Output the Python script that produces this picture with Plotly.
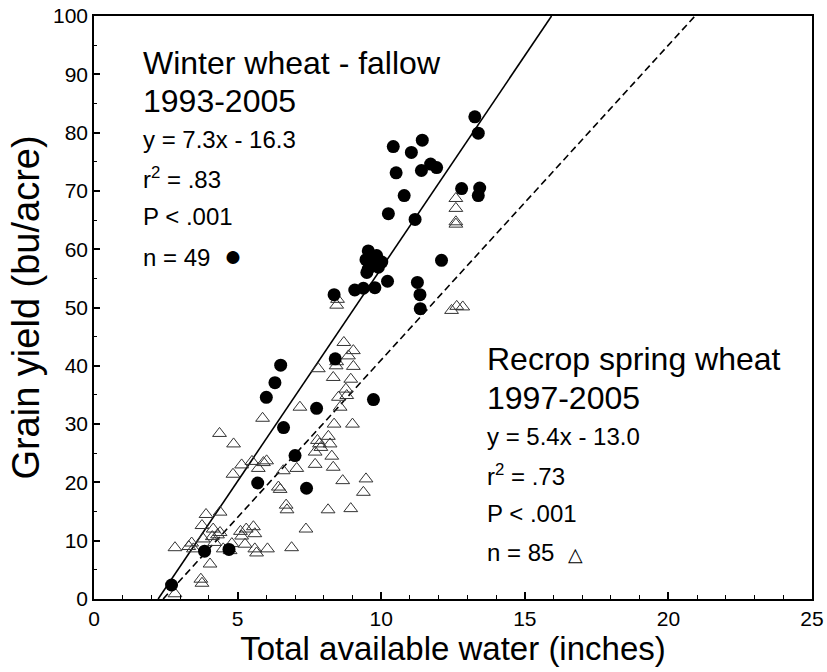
import plotly.graph_objects as go

# Winter wheat - fallow (filled circles)
ww_x = [2.7, 3.85, 4.7, 5.7, 6.0, 6.3, 6.5, 6.6, 7.0, 7.4, 7.75, 8.4, 8.36, 9.08, 9.38,
        9.73, 9.78, 9.5, 9.47, 9.55, 9.84, 10.02, 9.73, 9.9, 9.62, 9.68, 10.22, 10.25,
        10.42, 10.52, 10.8, 11.05, 11.18, 11.26, 11.35, 11.36, 11.43, 11.4, 11.72, 11.93,
        12.1, 12.8, 13.26, 13.38, 13.38, 13.43, 9.6, 9.95, 9.55]
ww_y = [2.4, 8.2, 8.5, 19.9, 34.6, 37.1, 40.1, 29.4, 24.6, 19.0, 32.7, 41.2, 52.2, 53.0, 53.3,
        34.2, 53.4, 56.0, 58.2, 59.7, 58.9, 57.8, 57.4, 56.9, 57.0, 58.5, 54.5, 66.1,
        77.6, 73.1, 69.2, 76.6, 65.1, 54.3, 52.2, 49.8, 78.7, 73.5, 74.6, 74.0,
        58.1, 70.4, 82.7, 79.9, 69.2, 70.5, 58.0, 57.6, 56.6]

# Recrop spring wheat (open triangles)
sw_x = [2.82, 2.82, 3.4, 3.46, 3.72, 3.76, 3.76, 3.8, 3.9, 4.04, 4.12, 4.15, 4.2, 4.39, 4.39,
        4.5, 4.74, 4.37, 4.86, 4.84, 5.1, 5.14, 5.14, 5.26, 5.55, 5.6, 5.6, 5.66, 5.5, 5.72,
        5.87, 5.9, 6.01, 6.04, 6.42, 6.48, 6.59, 6.69, 6.72, 6.88, 7.06, 7.17, 7.38, 7.7,
        7.7, 7.81, 7.78, 7.85, 8.16, 8.15, 8.22, 8.28, 8.33, 8.36, 8.33, 8.43, 8.45, 8.51,
        8.57, 8.66, 8.7, 8.77, 8.8, 8.86, 8.94, 8.94, 9.0, 9.03, 9.03, 9.38, 9.47, 8.48,
        8.45, 12.45, 12.63, 12.84, 12.6, 12.6, 12.6, 12.6, 4.3, 5.3, 3.3, 4.8, 7.9]
sw_y = [0.9, 8.8, 9.6, 8.6, 3.4, 2.7, 12.6, 10.3, 14.5, 6.0, 10.7, 12.0, 9.7, 11.4, 14.9,
        8.6, 8.3, 28.4, 26.6, 21.4, 11.6, 10.8, 23.0, 9.4, 12.4, 11.2, 8.6, 7.9, 23.6, 22.4,
        31.0, 23.4, 23.7, 8.6, 19.2, 18.8, 22.0, 16.1, 15.3, 8.8, 22.4, 32.9, 12.0, 23.1,
        25.2, 39.5, 27.2, 26.6, 27.9, 15.3, 26.6, 24.5, 22.6, 30.0, 38.0, 40.0, 40.7, 34.6,
        32.9, 20.3, 44.0, 36.0, 34.9, 41.7, 37.7, 15.5, 30.0, 39.9, 42.6, 18.3, 20.6, 51.4,
        50.4, 49.5, 50.2, 50.1, 68.7, 67.0, 64.3, 64.7, 11.0, 12.0, 9.0, 9.5, 26.0]

# Regression lines
ww_slope, ww_int = 7.3, -16.3
sw_slope, sw_int = 5.4, -13.0
y_line_range = [0, 100]

x_ticks = [0, 5, 10, 15, 20, 25]
y_ticks = [0, 10, 20, 30, 40, 50, 60, 70, 80, 90, 100]

FONT = "Liberation Sans, Arial, Helvetica, sans-serif"

fig = go.Figure()

fig.add_trace(go.Scatter(
    x=[(v - ww_int) / ww_slope for v in y_line_range], y=y_line_range,
    mode="lines", line=dict(color="black", width=1.6), showlegend=False, hoverinfo="skip"))
fig.add_trace(go.Scatter(
    x=[(v - sw_int) / sw_slope for v in y_line_range], y=y_line_range,
    mode="lines", line=dict(color="black", width=1.6, dash="7px,4px"), showlegend=False,
    hoverinfo="skip"))

fig.add_trace(go.Scatter(
    x=sw_x, y=sw_y, mode="markers", name="Recrop spring wheat",
    marker=dict(symbol="triangle-up-open", size=12, color="#333333", line=dict(width=1)),
    showlegend=False))
fig.add_trace(go.Scatter(
    x=ww_x, y=ww_y, mode="markers", name="Winter wheat - fallow",
    marker=dict(symbol="circle", size=13, color="black"),
    showlegend=False))

W, H = 827, 672
L, R, T, B = 94, 15, 16, 73
pw, ph = W - L - R, H - T - B


def px(xp):
    return (xp - L) / pw


def py(yp):
    return (H - B - yp) / ph


ann = []
block1 = [("Winter wheat - fallow", 63, 32), ("1993-2005", 101, 32),
          ("y = 7.3x - 16.3", 139, 24), ("r<sup>2</sup> = .83", 178, 24),
          ("P < .001", 216, 24),
          ("n = 49  <span style=\"font-size:30px\">\u25CF</span>", 255, 24)]
block2 = [("Recrop spring wheat", 359, 32), ("1997-2005", 398, 32),
          ("y = 5.4x - 13.0", 436, 24), ("r<sup>2</sup> = .73", 475, 24),
          ("P < .001", 513, 24),
          ("n = 85  <span style=\"font-size:19px\">\u25B3</span>", 552, 24)]
for xs, block in ((141, block1), (485, block2)):
    for text, yc, fs in block:
        ann.append(dict(text=text, x=px(xs), y=py(yc), xref="paper", yref="paper",
                        xanchor="left", yanchor="middle", showarrow=False,
                        font=dict(family=FONT, size=fs, color="black")))

fig.update_layout(
    width=W, height=H,
    margin=dict(l=L, r=R, t=T, b=B),
    paper_bgcolor="white", plot_bgcolor="white",
    font=dict(family=FONT, color="black"),
    annotations=ann,
)

fig.update_xaxes(
    range=[0, 25], tickvals=x_ticks, ticks="inside", ticklen=7, tickwidth=1.5,
    tickcolor="black", showline=True, linecolor="black", linewidth=1.6, mirror=True,
    showgrid=False, zeroline=False, tickfont=dict(size=21, family=FONT),
    ticklabeloverflow="allow",
    minor=dict(dtick=1, ticks="inside", ticklen=4, tickwidth=1.2, tickcolor="black",
               showgrid=False),
    title=dict(text="Total available water (inches)", font=dict(size=33, family=FONT),
               standoff=4),
    automargin=False,
)
fig.update_yaxes(
    range=[0, 100], tickvals=y_ticks, ticks="inside", ticklen=6, tickwidth=1.5,
    tickcolor="black", showline=True, linecolor="black", linewidth=1.6, mirror=True,
    showgrid=False, zeroline=False, tickfont=dict(size=21, family=FONT),
    ticklabeloverflow="allow",
    minor=dict(dtick=5, ticks="inside", ticklen=3, tickwidth=1.2, tickcolor="black",
               showgrid=False),
    title=dict(text="Grain yield (bu/acre)", font=dict(size=38, family=FONT), standoff=2),
    automargin=False,
)

# remove the default 8px page margin so the figure fills the 827x672 window
fig.write_html("out.html",
               config={"displayModeBar": False},
               post_script="document.body.style.margin='0px';"
                           "document.body.style.overflow='hidden';")
